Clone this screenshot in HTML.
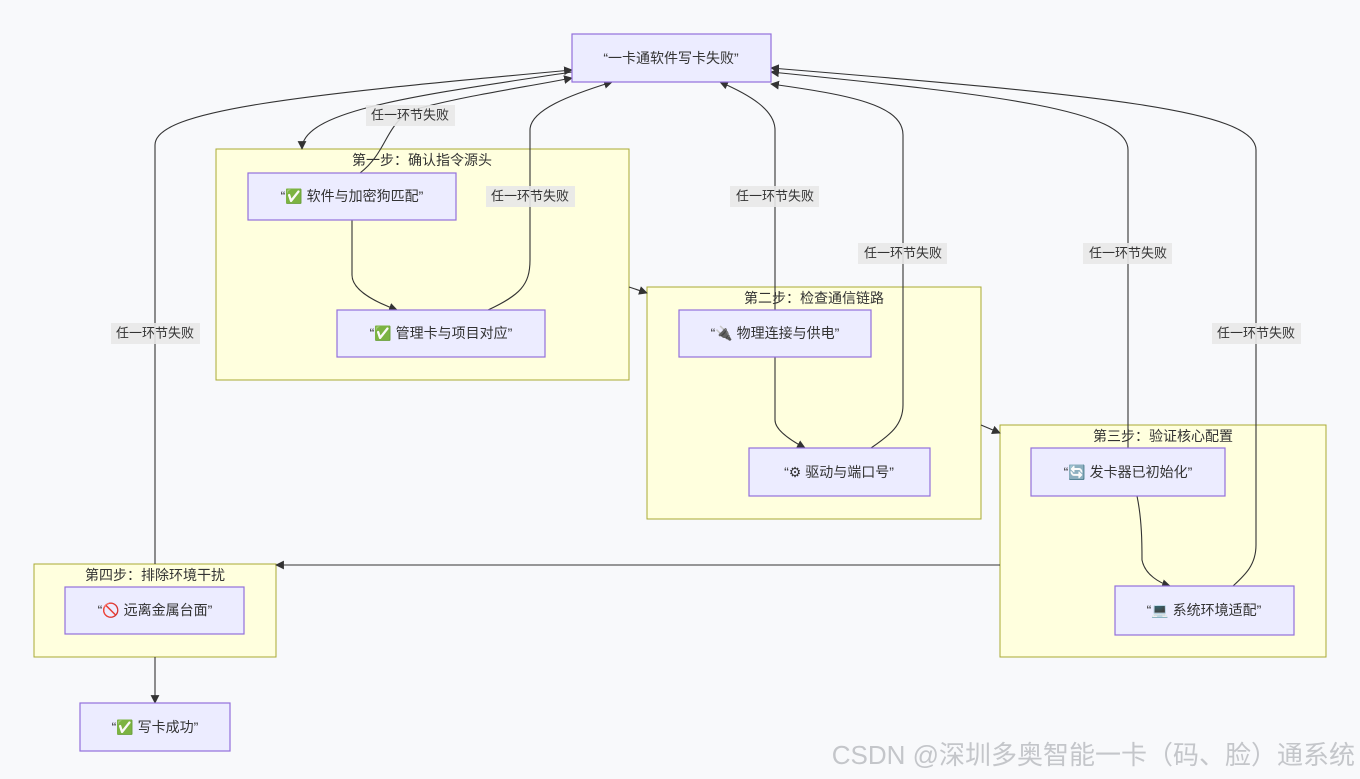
<!DOCTYPE html>
<html><head><meta charset="utf-8"><style>
html,body{margin:0;padding:0;background:#f8f9fb;}
svg{display:block;font-family:"Liberation Sans","Noto Sans CJK SC",sans-serif;}
.n{fill:#ECECFF;stroke:#9370DB;stroke-width:1.2}
.c{fill:#ffffde;stroke:#aaaa33;stroke-width:1}
.e{fill:none;stroke:#333;stroke-width:1.1}
.t{font-size:14px;fill:#333;text-anchor:middle;dominant-baseline:central}
.l{fill:#e8e8e8;opacity:.9}
</style></head><body>
<svg width="1360" height="779" viewBox="0 0 1360 779">
<defs><marker id="a" viewBox="0 0 10 10" refX="9" refY="5" markerWidth="8" markerHeight="8" orient="auto"><path d="M0,0L10,5L0,10z" fill="#333"/></marker></defs>
<rect class="c" x="216" y="149" width="413" height="231"/>
<rect class="c" x="647" y="287" width="334" height="232"/>
<rect class="c" x="1000" y="425" width="326" height="232"/>
<rect class="c" x="34" y="564" width="242" height="93"/>
<text class="t" x="422" y="160" style="font-size:14px">第一步：确认指令源头</text>
<text class="t" x="814" y="298" style="font-size:14px">第二步：检查通信链路</text>
<text class="t" x="1163" y="436" style="font-size:14px">第三步：验证核心配置</text>
<text class="t" x="155" y="575" style="font-size:14px">第四步：排除环境干扰</text>
<!-- edges -->
<path class="e" marker-end="url(#a)" d="M572,72 C420,95 302,110 302,149"/>
<path class="e" marker-end="url(#a)" d="M360,173 C390,150 385,118 420,108 C470,95 520,88 572,78"/>
<path class="e" marker-end="url(#a)" d="M155,564 L155,145 C155,110 300,95 572,70"/>
<path class="e" marker-end="url(#a)" d="M488,310 C520,295 530,285 530,260 L530,130 C530,110 570,95 612,82"/>
<path class="e" marker-end="url(#a)" d="M352,220 L352,275 C352,290 375,302 397,310"/>
<path class="e" marker-end="url(#a)" d="M629,287 L647,293"/>
<path class="e" marker-end="url(#a)" d="M775,357 L775,420 C775,430 790,440 805,448"/>
<path class="e" marker-end="url(#a)" d="M775,310 L775,130 C775,110 750,95 720,82"/>
<path class="e" marker-end="url(#a)" d="M871,448 C890,435 903,425 903,405 L903,135 C903,105 850,95 771,84"/>
<path class="e" marker-end="url(#a)" d="M981,425 L1000,433"/>
<path class="e" marker-end="url(#a)" d="M1128,448 L1128,150 C1128,110 1000,95 771,72"/>
<path class="e" marker-end="url(#a)" d="M1233,586 C1245,575 1256,565 1256,545 L1256,150 C1256,110 1100,95 771,68"/>
<path class="e" marker-end="url(#a)" d="M1137,496 C1142,520 1142,545 1142,560 C1145,575 1160,583 1170,586"/>
<path class="e" marker-end="url(#a)" d="M1000,565 L276,565"/>
<path class="e" marker-end="url(#a)" d="M155,657 L155,703"/>
<!-- labels -->
<rect class="l" x="366" y="105" width="89" height="21"/><text class="t" x="410" y="115" style="font-size:13px">任一环节失败</text>
<rect class="l" x="486" y="186" width="89" height="21"/><text class="t" x="530" y="196" style="font-size:13px">任一环节失败</text>
<rect class="l" x="730" y="186" width="89" height="21"/><text class="t" x="775" y="196" style="font-size:13px">任一环节失败</text>
<rect class="l" x="858" y="243" width="89" height="21"/><text class="t" x="903" y="253" style="font-size:13px">任一环节失败</text>
<rect class="l" x="1083" y="243" width="89" height="21"/><text class="t" x="1128" y="253" style="font-size:13px">任一环节失败</text>
<rect class="l" x="1212" y="323" width="89" height="21"/><text class="t" x="1256" y="333" style="font-size:13px">任一环节失败</text>
<rect class="l" x="111" y="323" width="89" height="21"/><text class="t" x="155" y="333" style="font-size:13px">任一环节失败</text>
<!-- nodes -->
<rect class="n" x="572" y="34" width="199" height="48"/><text class="t" x="671" y="58">“一卡通软件写卡失败”</text>
<rect class="n" x="248" y="173" width="208" height="47"/><text class="t" x="352" y="196">“✅ 软件与加密狗匹配”</text>
<rect class="n" x="337" y="310" width="208" height="47"/><text class="t" x="441" y="333">“✅ 管理卡与项目对应”</text>
<rect class="n" x="679" y="310" width="192" height="47"/><text class="t" x="775" y="333">“🔌 物理连接与供电”</text>
<rect class="n" x="749" y="448" width="181" height="48"/><text class="t" x="839" y="472">“⚙ 驱动与端口号”</text>
<rect class="n" x="1031" y="448" width="194" height="48"/><text class="t" x="1128" y="472">“🔄 发卡器已初始化”</text>
<rect class="n" x="1115" y="586" width="179" height="49"/><text class="t" x="1204" y="610">“💻 系统环境适配”</text>
<rect class="n" x="65" y="587" width="179" height="47"/><text class="t" x="155" y="610">“🚫 远离金属台面”</text>
<rect class="n" x="80" y="703" width="150" height="48"/><text class="t" x="155" y="727">“✅ 写卡成功”</text>
<text x="1355" y="764" style="font-size:26px;fill:#c4c6ca;text-anchor:end">CSDN @深圳多奥智能一卡（码、脸）通系统</text>
</svg>
</body></html>
